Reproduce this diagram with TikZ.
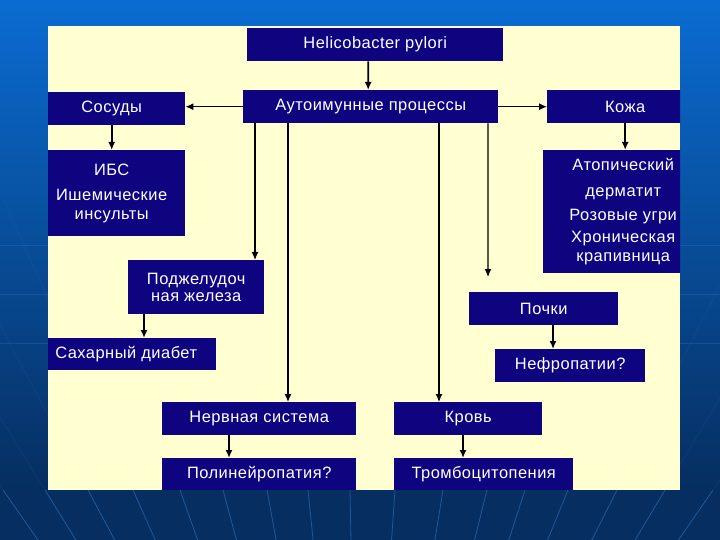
\documentclass[tikz,border=0pt]{standalone}
\usepackage{fontspec}
\setmainfont{Liberation Sans}[LetterSpace=3]
\usetikzlibrary{arrows.meta,calc}
\definecolor{panel}{RGB}{255,255,210}
\definecolor{boxblue}{RGB}{14,4,128}
\definecolor{bgtop}{RGB}{10,108,210}
\definecolor{bgbot}{RGB}{6,46,96}
\definecolor{raycol}{RGB}{50,120,200}
\begin{document}
\begin{tikzpicture}[x=1bp,y=-1bp,
  box/.style={fill=boxblue, text=white, inner sep=0pt, anchor=north west, align=center,
    font=\fontsize{16.5}{19}\selectfont},
  arr/.style={draw=black, line width=1.7bp, -{Latex[length=8bp,width=7bp]}},
  longarr/.style={draw=black, line width=1.2bp, -{Latex[length=8bp,width=7bp]}},
  rays/.style={draw=raycol, line width=0.8bp}]
\useasboundingbox (0,0) rectangle (720,540);
% background
\fill[top color=bgtop, bottom color=bgbot] (0,0) rectangle (720,490);
\fill[bgbot] (0,490) rectangle (720,541);
\coordinate (V) at (360,1000);
\foreach \x in {3,45,88,133,180,223,267,308,350,395,443,487,525,568,617,665,713}{
  \draw[rays, opacity=0.12] ($(V)!0.902!(\x,490)$) -- ($(V)!1.569!(\x,490)$);
  \draw[rays, opacity=0.5] ($(V)!0.902!(\x,490)$) -- (\x,490);
}
\foreach \y in {245,294,343}{
  \draw[rays, opacity=0.3] (0,\y) -- (720,\y);
}
% panel
\fill[panel] (48,26) rectangle (680,490);
% boxes
\begin{scope}
\clip (48,0) rectangle (680,540);
\node[box, minimum width=256bp, minimum height=33bp] (helico) at (247,28) {Helicobacter pylori};
\node[box, minimum width=255bp, minimum height=33bp] (auto) at (243,90) {Аутоимунные процессы};
\node[box, minimum width=147bp, minimum height=33bp] (sosudy) at (38,92) {Сосуды};
\node[box, minimum width=156bp, minimum height=33bp] (koza) at (547,90) {Кожа};
\node[box, minimum width=147bp, minimum height=86bp] (ibs) at (38,150) {ИБС\\[6bp]Ишемические\\инсульты};
\node[box, minimum width=160bp, minimum height=123bp] (atop) at (543,150)
  {Атопический\\[7bp]дерматит\\[5bp]Розовые угри\\[3bp]Хроническая\\крапивница};
\node[box, minimum width=136bp, minimum height=54bp] (podzh) at (128,260) {Поджелудоч\\[-2bp]ная железа};
\node[box, minimum width=180bp, minimum height=32bp] (sahar) at (36,338) {Сахарный диабет};
\node[box, minimum width=149bp, minimum height=33bp] (pochki) at (469,292) {Почки};
\node[box, minimum width=150bp, minimum height=33bp] (nefro) at (495,349) {Нефропатии?};
\node[box, minimum width=194bp, minimum height=33bp] (nerv) at (162,402) {Нервная система};
\node[box, minimum width=194bp, minimum height=32bp] (polin) at (162,458) {Полинейропатия?};
\node[box, minimum width=148bp, minimum height=33bp] (krov) at (394,402) {Кровь};
\node[box, minimum width=179bp, minimum height=32bp] (trombo) at (394,458) {Тромбоцитопения};
\end{scope}
% connectors
\draw[arr] ([xshift=-7bp]helico.south) -- ([xshift=-2.5bp]auto.north);
\draw[longarr] (auto.west) -- (auto.west -| sosudy.east);
\draw[longarr] (auto.east) -- (koza.west);
\draw[arr] (sosudy.south) -- (sosudy.south |- ibs.north);
\draw[arr] (koza.south) -- (koza.south |- atop.north);
\coordinate (d1) at ([xshift=12bp]auto.south west);
\coordinate (d2) at ([xshift=45bp]auto.south west);
\coordinate (d3) at ([xshift=196bp]auto.south west);
\coordinate (d4) at ([xshift=245bp]auto.south west);
\coordinate (e4) at (488,277);
\draw[longarr] (d1) -- (d1 |- podzh.north);
\draw[longarr] (d2) -- (d2 |- nerv.north);
\draw[longarr] (d3) -- (d3 |- krov.north);
\draw[longarr] (d4) -- (e4);
\draw[arr] ([xshift=16bp]podzh.south west) coordinate (s1) -- (s1 |- sahar.north);
\draw[arr] ([xshift=84bp]pochki.south west) coordinate (s2) -- (s2 |- nefro.north);
\draw[arr] ([xshift=67bp]nerv.south west) coordinate (s3) -- (s3 |- polin.north);
\draw[arr] ([xshift=69bp]krov.south west) coordinate (s4) -- (s4 |- trombo.north);
\end{tikzpicture}
\end{document}
